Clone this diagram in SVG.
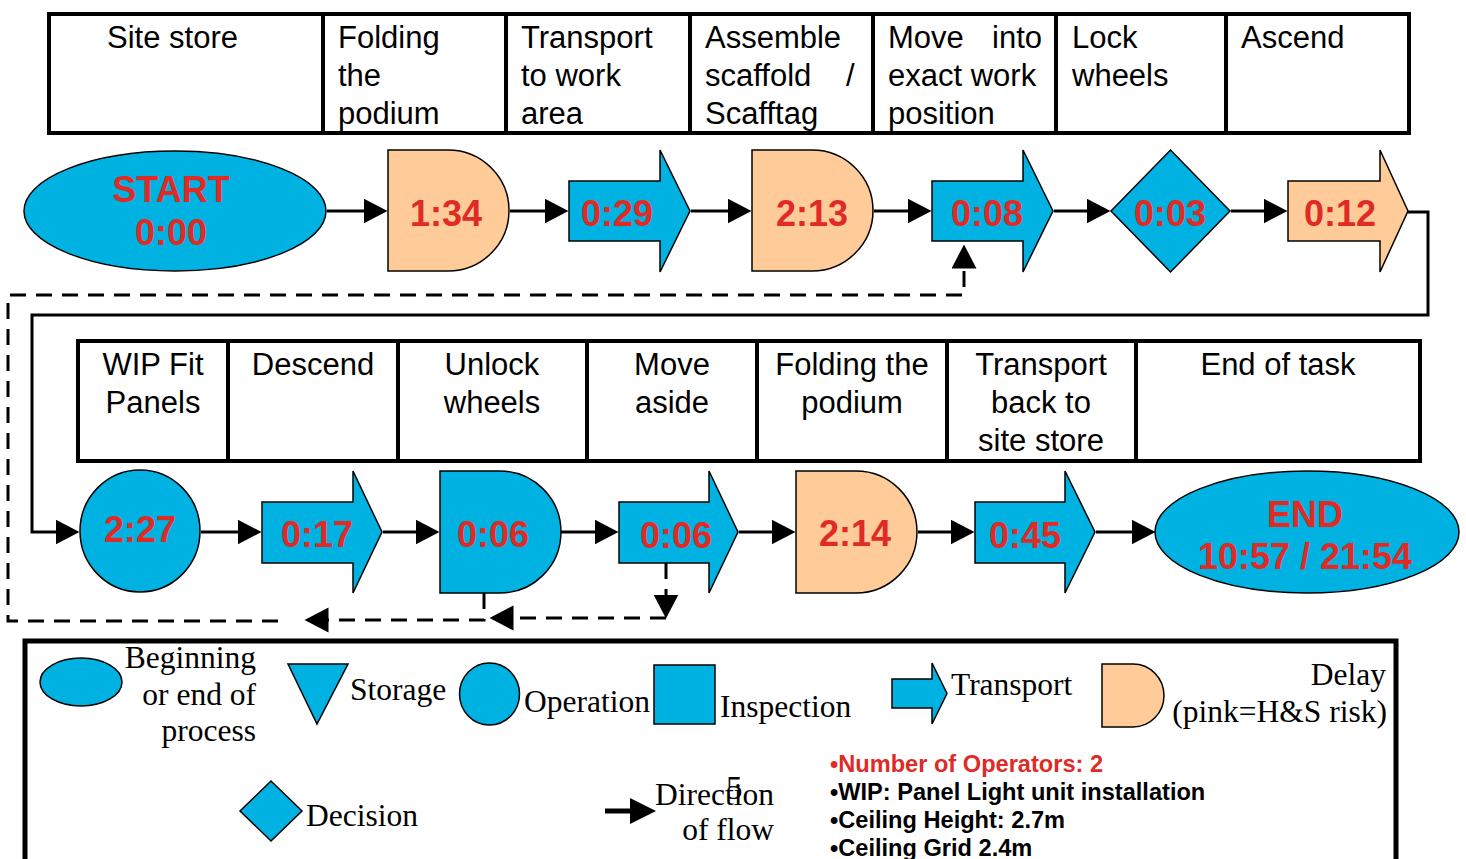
<svg xmlns="http://www.w3.org/2000/svg" width="1466" height="859" viewBox="0 0 1466 859">
<style>
.tbl{fill:none;stroke:#000;stroke-width:4}
.cell{font-family:"Liberation Sans",Arial,sans-serif;font-size:31px;fill:#000}
.mid{text-anchor:middle}
.blue{fill:#00B2E2;stroke:#000;stroke-width:1.5}
.peach{fill:#FFCC99;stroke:#000;stroke-width:1.5}
.num{font-family:"Liberation Sans",Arial,sans-serif;font-weight:bold;font-size:36px;fill:#E02A26;text-anchor:middle}
.conn{fill:none;stroke:#000;stroke-width:3}
.dash{stroke-dasharray:16 10}
.leg{font-family:"Liberation Serif","Times New Roman",serif;font-size:31.5px;fill:#000}
.end{text-anchor:end}
.info{font-family:"Liberation Sans",Arial,sans-serif;font-weight:bold;font-size:23.6px;fill:#000}
</style>
<defs>
<marker id="ah" markerUnits="userSpaceOnUse" markerWidth="26" markerHeight="26" refX="0.5" refY="12.5" orient="auto">
<path d="M0,0 L24,12.5 L0,25 Z" fill="#000"/>
</marker>
</defs>

<!-- Top table -->
<g id="table1">
<rect class="tbl" x="49" y="14" width="1360" height="119"/>
<path class="tbl" d="M323,14V133M506,14V133M690,14V133M873,14V133M1056,14V133M1226,14V133"/>
<text class="cell" x="107" y="48">Site store</text>
<text class="cell" x="338" y="48">Folding</text>
<text class="cell" x="338" y="86">the</text>
<text class="cell" x="338" y="124">podium</text>
<text class="cell" x="521" y="48">Transport</text>
<text class="cell" x="521" y="86">to work</text>
<text class="cell" x="521" y="124">area</text>
<text class="cell" x="705" y="48">Assemble</text>
<text class="cell" x="705" y="86">scaffold</text>
<text class="cell" x="846" y="86">/</text>
<text class="cell" x="705" y="124">Scafftag</text>
<text class="cell" x="888" y="48">Move</text>
<text class="cell end" x="1042" y="48">into</text>
<text class="cell" x="888" y="86">exact work</text>
<text class="cell" x="888" y="124">position</text>
<text class="cell" x="1072" y="48">Lock</text>
<text class="cell" x="1072" y="86">wheels</text>
<text class="cell" x="1241" y="48">Ascend</text>
</g>

<!-- Second table -->
<g id="table2">
<rect class="tbl" x="78" y="341" width="1342" height="120"/>
<path class="tbl" d="M228,341V461M398,341V461M587,341V461M757,341V461M947,341V461M1136,341V461"/>
<text class="cell mid" x="153" y="375">WIP Fit</text>
<text class="cell mid" x="153" y="413">Panels</text>
<text class="cell mid" x="313" y="375">Descend</text>
<text class="cell mid" x="492" y="375">Unlock</text>
<text class="cell mid" x="492" y="413">wheels</text>
<text class="cell mid" x="672" y="375">Move</text>
<text class="cell mid" x="672" y="413">aside</text>
<text class="cell mid" x="852" y="375">Folding the</text>
<text class="cell mid" x="852" y="413">podium</text>
<text class="cell mid" x="1041" y="375">Transport</text>
<text class="cell mid" x="1041" y="413">back to</text>
<text class="cell mid" x="1041" y="451">site store</text>
<text class="cell mid" x="1278" y="375">End of task</text>
</g>

<!-- Connectors -->
<g id="connectors">
<path class="conn" marker-end="url(#ah)" d="M327,211H364"/>
<path class="conn" marker-end="url(#ah)" d="M510,211H545"/>
<path class="conn" marker-end="url(#ah)" d="M691,211H728"/>
<path class="conn" marker-end="url(#ah)" d="M874,211H908"/>
<path class="conn" marker-end="url(#ah)" d="M1054,211H1087"/>
<path class="conn" marker-end="url(#ah)" d="M1231,211H1264"/>
<path class="conn" marker-end="url(#ah)" d="M1408,212H1428V315H32V532H56"/>
<path class="conn" marker-end="url(#ah)" d="M201,532H238"/>
<path class="conn" marker-end="url(#ah)" d="M383,532H416"/>
<path class="conn" marker-end="url(#ah)" d="M561,532H595"/>
<path class="conn" marker-end="url(#ah)" d="M739,532H772"/>
<path class="conn" marker-end="url(#ah)" d="M918,532H951"/>
<path class="conn" marker-end="url(#ah)" d="M1096,532H1132"/>
<path class="conn dash" marker-end="url(#ah)" d="M666,563V595"/>
<path class="conn dash" marker-end="url(#ah)" d="M666,618H513"/>
<path class="conn dash" marker-end="url(#ah)" d="M484,593V620H328"/>
<path class="conn dash" marker-end="url(#ah)" d="M278,621H8V295H964V268"/>
</g>

<!-- Row 1 nodes -->
<g id="start">
<ellipse class="blue" cx="175" cy="211" rx="151" ry="60"/>
<text class="num" x="171" y="202">START</text>
<text class="num" x="171" y="245">0:00</text>
</g>
<g id="n134">
<path class="peach" d="M388,150H448A61,60.5 0 0 1 448,271H388Z"/>
<text class="num" x="446" y="226">1:34</text>
</g>
<g id="n029">
<path class="blue" d="M569,181H660V150L690,211L660,272V241H569Z"/>
<text class="num" x="617" y="226">0:29</text>
</g>
<g id="n213">
<path class="peach" d="M752,150H812A61,60.5 0 0 1 812,271H752Z"/>
<text class="num" x="812" y="226">2:13</text>
</g>
<g id="n008">
<path class="blue" d="M932,181H1023V150L1053,211L1023,272V241H932Z"/>
<text class="num" x="987" y="226">0:08</text>
</g>
<g id="n003">
<path class="blue" d="M1111,211L1170.5,150L1230,211L1170.5,272Z"/>
<text class="num" x="1170" y="226">0:03</text>
</g>
<g id="n012">
<path class="peach" d="M1288,181H1380V150L1408,211L1380,272V241H1288Z"/>
<text class="num" x="1340" y="226">0:12</text>
</g>

<!-- Row 2 nodes -->
<g id="n227">
<ellipse class="blue" cx="140" cy="531" rx="60" ry="61"/>
<text class="num" x="140" y="542">2:27</text>
</g>
<g id="n017">
<path class="blue" d="M262,502H353V471L382,532L353,593V563H262Z"/>
<text class="num" x="317" y="547">0:17</text>
</g>
<g id="n006a">
<path class="blue" d="M440,471H500A61,61 0 0 1 500,593H440Z"/>
<text class="num" x="493" y="547">0:06</text>
</g>
<g id="n006b">
<path class="blue" d="M619,502H709V471L738,532L709,593V563H619Z"/>
<text class="num" x="676" y="548">0:06</text>
</g>
<g id="n214">
<path class="peach" d="M796,471H856A61,61 0 0 1 856,593H796Z"/>
<text class="num" x="855" y="546">2:14</text>
</g>
<g id="n045">
<path class="blue" d="M975,502H1065V471L1095,532L1065,593V563H975Z"/>
<text class="num" x="1025" y="548">0:45</text>
</g>
<g id="end">
<ellipse class="blue" cx="1307" cy="532" rx="152" ry="61"/>
<text class="num" x="1305" y="527">END</text>
<text class="num" x="1305" y="569">10:57 / 21:54</text>
</g>

<!-- Legend -->
<g id="legend">
<rect x="25" y="641" width="1371" height="240" fill="none" stroke="#000" stroke-width="5"/>
<ellipse class="blue" cx="81" cy="682" rx="41" ry="24"/>
<text class="leg end" x="256" y="668">Beginning</text>
<text class="leg end" x="256" y="705">or end of</text>
<text class="leg end" x="256" y="741">process</text>
<path class="blue" d="M288,664H348L317,724Z"/>
<text class="leg" x="350" y="700">Storage</text>
<ellipse class="blue" cx="489.5" cy="694" rx="30" ry="31"/>
<text class="leg" x="524" y="712">Operation</text>
<rect class="blue" x="654" y="665" width="61" height="59"/>
<text class="leg" x="720" y="717">Inspection</text>
<path class="blue" d="M892,679H932V663L947,693.5L932,724V708H892Z"/>
<text class="leg" x="951" y="695">Transport</text>
<path class="peach" d="M1102,664H1133A31,31.5 0 0 1 1133,727H1102Z"/>
<text class="leg end" x="1386" y="685">Delay</text>
<text class="leg end" x="1387" y="722">(pink=H&amp;S risk)</text>
<path class="blue" d="M240,811L271,781L302,811L271,841Z"/>
<text class="leg" x="306" y="826">Decision</text>
<path d="M605,811H632" stroke="#000" stroke-width="5"/>
<path d="M630,798L656,811L630,824Z" fill="#000"/>
<text class="leg" x="655" y="805">Direction</text>
<text class="leg end" x="774" y="840">of flow</text>
<text class="leg" x="726" y="799" style="font-size:33px">5</text>
<text class="info" x="830" y="772" style="fill:#E02A26">•Number of Operators: 2</text>
<text class="info" x="830" y="800">•WIP: Panel Light unit installation</text>
<text class="info" x="830" y="828">•Ceiling Height: 2.7m</text>
<text class="info" x="830" y="856">•Ceiling Grid 2.4m</text>
</g>
</svg>
